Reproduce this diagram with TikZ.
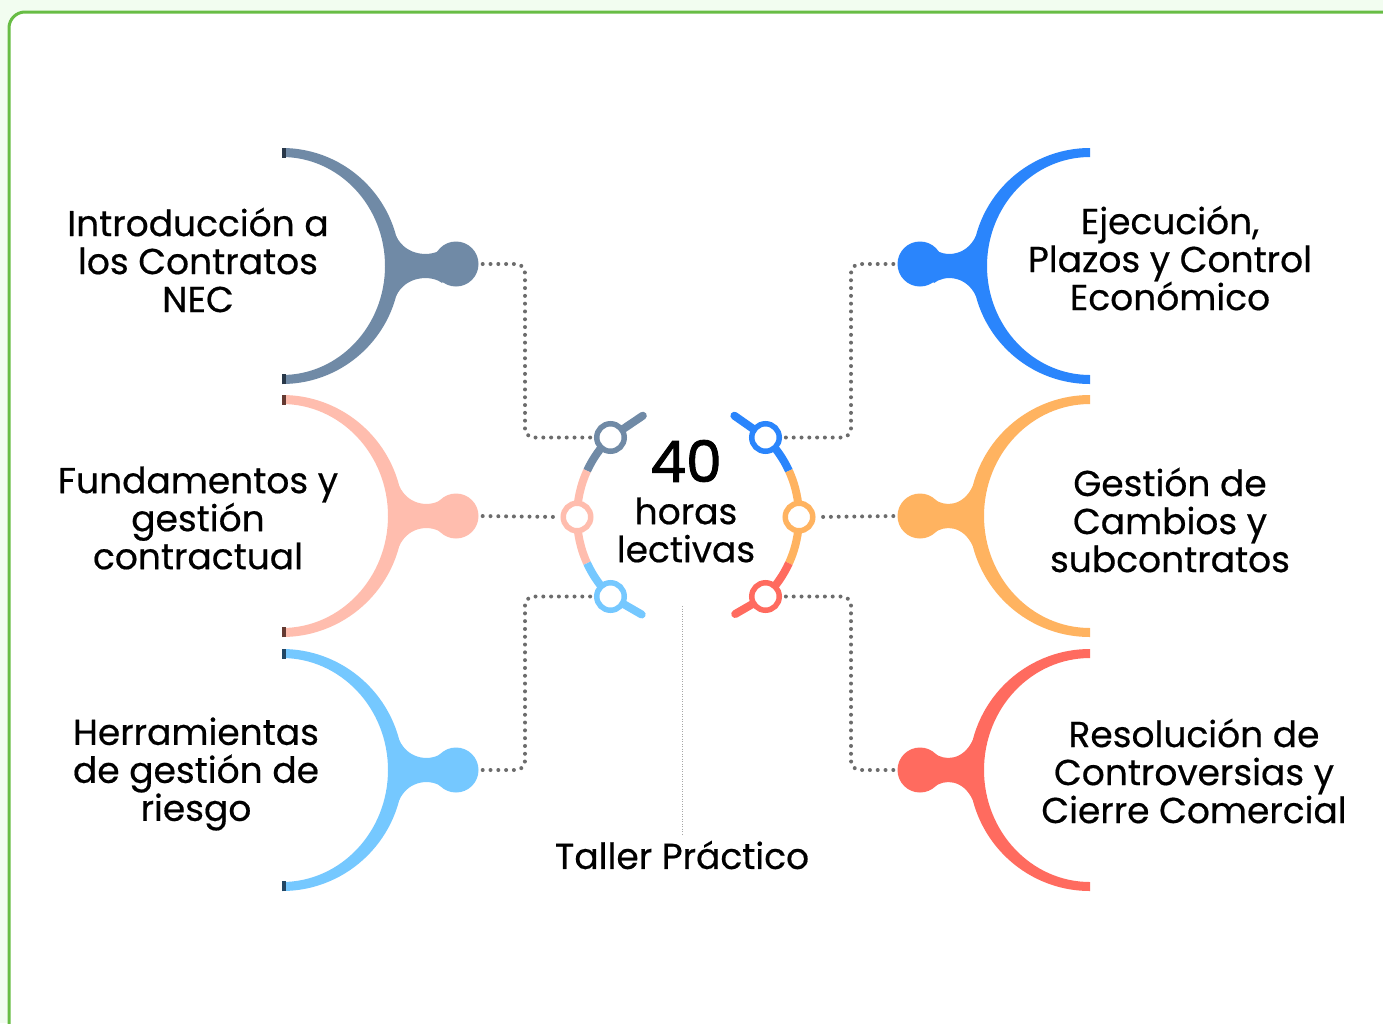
\documentclass[tikz,border=0pt]{standalone}
\usepackage{fontspec}
\setmainfont{Poppins}[FakeBold=0.5]
\newfontfamily\fortyfont{Poppins}[FakeBold=1.6]
\definecolor{bgg}{RGB}{242,253,240}
\definecolor{frameg}{RGB}{104,189,69}
\definecolor{cA}{RGB}{112,138,166}
\definecolor{cB}{RGB}{255,189,174}
\definecolor{cC}{RGB}{117,200,255}
\definecolor{cD}{RGB}{42,133,252}
\definecolor{cE}{RGB}{255,179,96}
\definecolor{cF}{RGB}{255,107,95}
\definecolor{capA}{RGB}{40,55,72}
\definecolor{capB}{RGB}{100,58,50}
\definecolor{capC}{RGB}{34,70,100}
\definecolor{dotg}{RGB}{108,108,108}
\tikzset{
  knob/.style={circle, inner sep=0pt, minimum size=45pt},
  ring/.style={circle, draw, line width=5.5pt, fill=white, minimum size=27.5pt, inner sep=0pt},
  seg/.style={line width=8pt},
  handle/.style={line width=8pt, line cap=round},
  dotc/.style={draw=dotg, line width=4pt, line cap=round, dash pattern=on 0pt off 7.8pt, rounded corners=9pt, shorten <=4pt, shorten >=3pt},
  lbl/.style={align=center, inner sep=0pt, font=\fontsize{36}{38}\selectfont},
}
% #1 cx, #2 cy (screen), #3 R, #4 colour, #5 direction, #6 knob distance
\newcommand\crescentarc[6]{%
  \begin{scope}[shift={(#1,-#2)}, xscale=#5]
    \pgfmathsetmacro\kRi{#3-15}\pgfmathsetmacro\kRj{#3-9}\pgfmathsetmacro\kBx{sqrt(#3*#3-900)}%
    \pgfmathsetmacro\kAx{#6-14}\pgfmathsetmacro\kCx{#6-24}\pgfmathsetmacro\kDx{#3+6}\pgfmathsetmacro\kEx{#3-8}%
    \fill[#4] (0,#3) arc[start angle=90,end angle=-90,radius=#3] -- (0,-\kRj)
      arc[start angle=-90,end angle=90,x radius=\kRi,y radius=\kRj] -- cycle;
    \fill[#4] (\kAx,17) .. controls (\kCx,9) and (\kDx,9) .. (\kBx,30) -- (\kEx,0) -- (\kBx,-30)
      .. controls (\kDx,-9) and (\kCx,-9) .. (\kAx,-17) -- (#6,0) -- cycle;
  \end{scope}}
\begin{document}
\begin{tikzpicture}[x=1pt,y=1pt]
\useasboundingbox (0,0) rectangle (1383,-1023);
\fill[bgg] (0,0) rectangle (1383,-1023);
\begin{scope}
  \clip (0,0) rectangle (1383,-1023);
  \draw[frameg, line width=3pt, fill=white, rounded corners=16pt] (9,-12) rectangle (1430,-1070);
\end{scope}

% side arcs
\crescentarc{282}{266}{118}{cA}{1}{174}
\crescentarc{282}{516}{121}{cB}{1}{174}
\crescentarc{282}{770}{121}{cC}{1}{174}
\crescentarc{1090}{266}{118}{cD}{-1}{170}
\crescentarc{1090}{516}{121}{cE}{-1}{170}
\crescentarc{1090}{770}{121}{cF}{-1}{170}
% dark end caps on left arcs
\fill[capA] (282,-148) rectangle (286,-158);
\fill[capA] (282,-374) rectangle (286,-384);
\fill[capB] (282,-395) rectangle (286,-405);
\fill[capB] (282,-627) rectangle (286,-637);
\fill[capC] (282,-649) rectangle (286,-659);
\fill[capC] (282,-881) rectangle (286,-891);

% knobs
\node[knob, fill=cA] (k1) at (456,-264) {};
\node[knob, fill=cB] (k2) at (456,-516) {};
\node[knob, fill=cC] (k3) at (456,-770) {};
\node[knob, fill=cD] (k4) at (920,-264) {};
\node[knob, fill=cE] (k5) at (920,-516) {};
\node[knob, fill=cF] (k6) at (920,-770) {};

% central arcs
\begin{scope}[shift={(688,-517)}]
  \draw[seg, cA] (134.3:111) arc[start angle=134.3,end angle=155.4,radius=111];
  \draw[seg, cB] (155.4:111) arc[start angle=155.4,end angle=204.6,radius=111];
  \draw[seg, cC] (204.6:111) arc[start angle=204.6,end angle=225.7,radius=111];
  \draw[seg, cD] (45.7:111) arc[start angle=45.7,end angle=24.6,radius=111];
  \draw[seg, cE] (24.6:111) arc[start angle=24.6,end angle=-24.6,radius=111];
  \draw[seg, cF] (-24.6:111) arc[start angle=-24.6,end angle=-45.7,radius=111];
\end{scope}
\coordinate (c1) at (610.5,-437.5);
\coordinate (c2) at (577,-517);
\coordinate (c3) at (610.5,-596.5);
\coordinate (c4) at (765.5,-437.5);
\coordinate (c5) at (799,-517);
\coordinate (c6) at (765.5,-596.5);
\draw[handle, cA] (c1) -- ++(34:39);
\draw[handle, cC] (c3) -- ++(-30:36);
\draw[handle, cD] (c4) -- ++(145:38);
\draw[handle, cF] (c6) -- ++(210:35);
\node[ring, draw=cA] (r1) at (c1) {};
\node[ring, draw=cB] (r2) at (c2) {};
\node[ring, draw=cC] (r3) at (c3) {};
\node[ring, draw=cD] (r4) at (c4) {};
\node[ring, draw=cE] (r5) at (c5) {};
\node[ring, draw=cF] (r6) at (c6) {};

% dotted connectors
\draw[dotc] (k1.east) -- (525,-264) -- (525,-437.5) -- (r1.west);
\draw[dotc] (k2.east) -- (r2.west);
\draw[dotc] (k3.east) -- (525,-770) -- (525,-596.5) -- (r3.west);
\draw[dotc] (k4.west) -- (851,-264) -- (851,-437.5) -- (r4.east);
\draw[dotc] (k5.west) -- (r5.east);
\draw[dotc] (k6.west) -- (851,-770) -- (851,-596.5) -- (r6.east);

% labels
\node[lbl] (t1) at (198,-260) {Introducción a\\los Contratos\\NEC};
\node[lbl] (t2) at (198,-518) {Fundamentos y\\gestión\\contractual};
\node[lbl] (t3) at (196,-774) {Herramientas\\de gestión de\\riesgo};
\node[lbl] (t4) at (1170,-258) {Ejecución,\\Plazos y Control\\Económico};
\node[lbl] (t5) at (1170,-520) {Gestión de\\Cambios y\\subcontratos};
\node[lbl] (t6) at (1194,-771) {Resolución de\\Controversias y\\Cierre Comercial};

\node[inner sep=0pt, font=\fortyfont\fontsize{57}{57}\selectfont] (forty) at (686,-461) {40};
\node[lbl] (horas) at (686,-530) {horas\\lectivas};
\node[inner sep=0pt, font=\fontsize{36}{38}\selectfont] (taller) at (682,-855) {Taller Práctico};
\coordinate (vtop) at (682,-606);
\draw[black!35, line width=1pt, dash pattern=on 1pt off 1.5pt] (vtop) -- (taller.north |- 0,-835);
\end{tikzpicture}
\end{document}
